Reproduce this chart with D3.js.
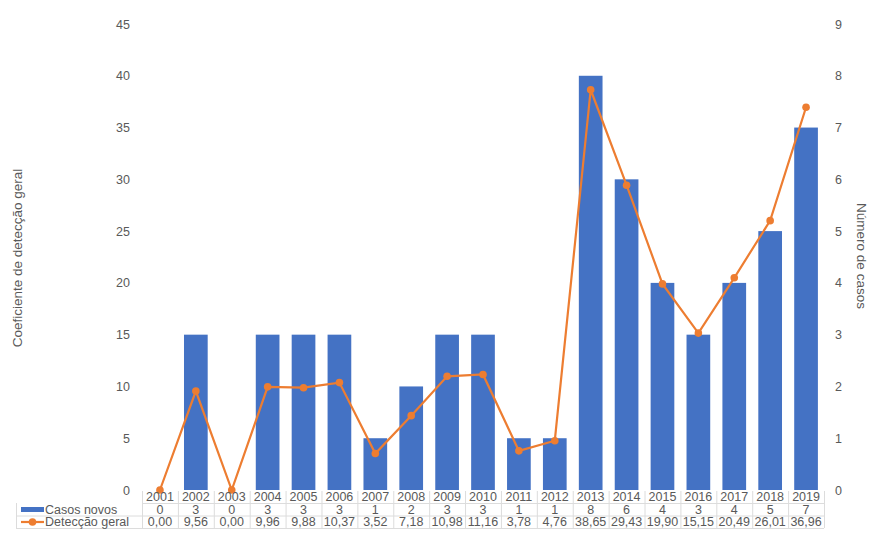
<!DOCTYPE html>
<html>
<head>
<meta charset="utf-8">
<script src="https://cdn.jsdelivr.net/npm/d3@7/dist/d3.min.js"></script>
<style>
  html, body { margin: 0; padding: 0; background: #fff; }
  svg { display: block; font-family: "Liberation Sans", Arial, sans-serif; }
</style>
</head>
<body>
<svg id="chart" width="869" height="546"></svg>
<script>
// Anos, casos novos e coeficiente de detecção geral
const years = ["2001","2002","2003","2004","2005","2006","2007","2008","2009","2010",
               "2011","2012","2013","2014","2015","2016","2017","2018","2019"];
const casosNovos = [0,3,0,3,3,3,1,2,3,3,1,1,8,6,4,3,4,5,7];
const deteccaoGeral = [0.00,9.56,0.00,9.96,9.88,10.37,3.52,7.18,10.98,11.16,
                       3.78,4.76,38.65,29.43,19.90,15.15,20.49,26.01,36.96];
const leftTicks = [0,5,10,15,20,25,30,35,40,45];
const rightTicks = [0,1,2,3,4,5,6,7,8,9];
const seriesNames = ["Casos novos", "Detecção geral"];

const BLUE = "#4472C4", ORANGE = "#ED7D31", GRID = "#dcdcdc", TEXT = "#595959";

const svg = d3.select("#chart");
const plot = { left: 142, right: 824, top: 24, bottom: 490 };

const x = d3.scaleBand().domain(years).range([plot.left, plot.right]).paddingInner(0.34).paddingOuter(0.17);
const xBand = d3.scaleBand().domain(years).range([plot.left, plot.right]);
const yLeft = d3.scaleLinear().domain([0, 45]).range([plot.bottom, plot.top]);
const yRight = d3.scaleLinear().domain([0, 9]).range([plot.bottom, plot.top]);

// Eixo esquerdo
const axL = svg.append("g").attr("transform", `translate(${plot.left - 12},0)`)
  .call(d3.axisLeft(yLeft).tickValues(leftTicks).tickSize(0).tickPadding(0));
axL.select(".domain").remove();
axL.selectAll("text").attr("fill", TEXT).style("font-size", "12.5px")
  .style("font-family", "Liberation Sans, Arial, sans-serif");

// Eixo direito
const axR = svg.append("g").attr("transform", `translate(${plot.right + 11},0)`)
  .call(d3.axisRight(yRight).tickValues(rightTicks).tickSize(0).tickPadding(0));
axR.select(".domain").remove();
axR.selectAll("text").attr("fill", TEXT).style("font-size", "12.5px")
  .style("font-family", "Liberation Sans, Arial, sans-serif");

// Títulos dos eixos
svg.append("text")
  .attr("transform", "translate(22,258) rotate(-90)")
  .attr("text-anchor", "middle").attr("fill", TEXT).style("font-size", "13.5px")
  .text("Coeficiente de detecção geral");
svg.append("text")
  .attr("transform", "translate(857,256) rotate(90)")
  .attr("text-anchor", "middle").attr("fill", TEXT).style("font-size", "13.5px")
  .text("Número de casos");

// Barras: casos novos
svg.append("g").selectAll("rect").data(casosNovos).join("rect")
  .attr("x", (d, i) => x(years[i]))
  .attr("width", x.bandwidth())
  .attr("y", d => yRight(d))
  .attr("height", d => yRight(0) - yRight(d))
  .attr("fill", BLUE);

// Linha: detecção geral
const cx = (d, i) => xBand(years[i]) + xBand.bandwidth() / 2;
svg.append("path").datum(deteccaoGeral)
  .attr("fill", "none").attr("stroke", ORANGE).attr("stroke-width", 2.2)
  .attr("d", d3.line().x(cx).y(d => yLeft(d)));
svg.append("g").selectAll("circle").data(deteccaoGeral).join("circle")
  .attr("cx", cx).attr("cy", d => yLeft(d)).attr("r", 3.8).attr("fill", ORANGE);

// Tabela de dados
const rowY = [497, 509.5, 522];
const tableTop = 491, tableBottom = 528, legendLeft = 16;
const grid = svg.append("g").attr("stroke", GRID).attr("stroke-width", 1);
years.forEach((yr, i) => {
  grid.append("line").attr("x1", xBand(yr) + 0.5).attr("x2", xBand(yr) + 0.5)
    .attr("y1", tableTop).attr("y2", tableBottom);
});
grid.append("line").attr("x1", plot.right + 0.5).attr("x2", plot.right + 0.5)
  .attr("y1", tableTop).attr("y2", tableBottom);
[503, 515.5, 528].forEach(yy => {
  grid.append("line").attr("x1", yy === 503 ? plot.left : legendLeft).attr("x2", plot.right)
    .attr("y1", yy + 0.5).attr("y2", yy + 0.5);
});
grid.append("line").attr("x1", legendLeft + 0.5).attr("x2", legendLeft + 0.5)
  .attr("y1", 503).attr("y2", tableBottom);

const fmt = v => d3.format(".2f")(v).replace(".", ",");
const tbl = svg.append("g").attr("fill", TEXT).style("font-size", "12.5px").attr("text-anchor", "middle");
years.forEach((yr, i) => {
  const c = xBand(yr) + xBand.bandwidth() / 2;
  tbl.append("text").attr("x", c).attr("y", rowY[0]).attr("dy", "0.35em").text(yr);
  tbl.append("text").attr("x", c).attr("y", rowY[1]).attr("dy", "0.35em").text(casosNovos[i]);
  tbl.append("text").attr("x", c).attr("y", rowY[2]).attr("dy", "0.35em").text(fmt(deteccaoGeral[i]));
});

// Legenda dentro da tabela
svg.append("rect").attr("x", 21).attr("y", rowY[1] - 2.5).attr("width", 23).attr("height", 5).attr("fill", BLUE);
svg.append("line").attr("x1", 21).attr("x2", 44).attr("y1", rowY[2]).attr("y2", rowY[2])
  .attr("stroke", ORANGE).attr("stroke-width", 2.2);
svg.append("circle").attr("cx", 32.5).attr("cy", rowY[2]).attr("r", 3.8).attr("fill", ORANGE);
const leg = svg.append("g").attr("fill", TEXT).style("font-size", "12.5px");
leg.append("text").attr("x", 45).attr("y", rowY[1]).attr("dy", "0.35em").text(seriesNames[0]);
leg.append("text").attr("x", 45).attr("y", rowY[2]).attr("dy", "0.35em").text(seriesNames[1]);
</script>
</body>
</html>
